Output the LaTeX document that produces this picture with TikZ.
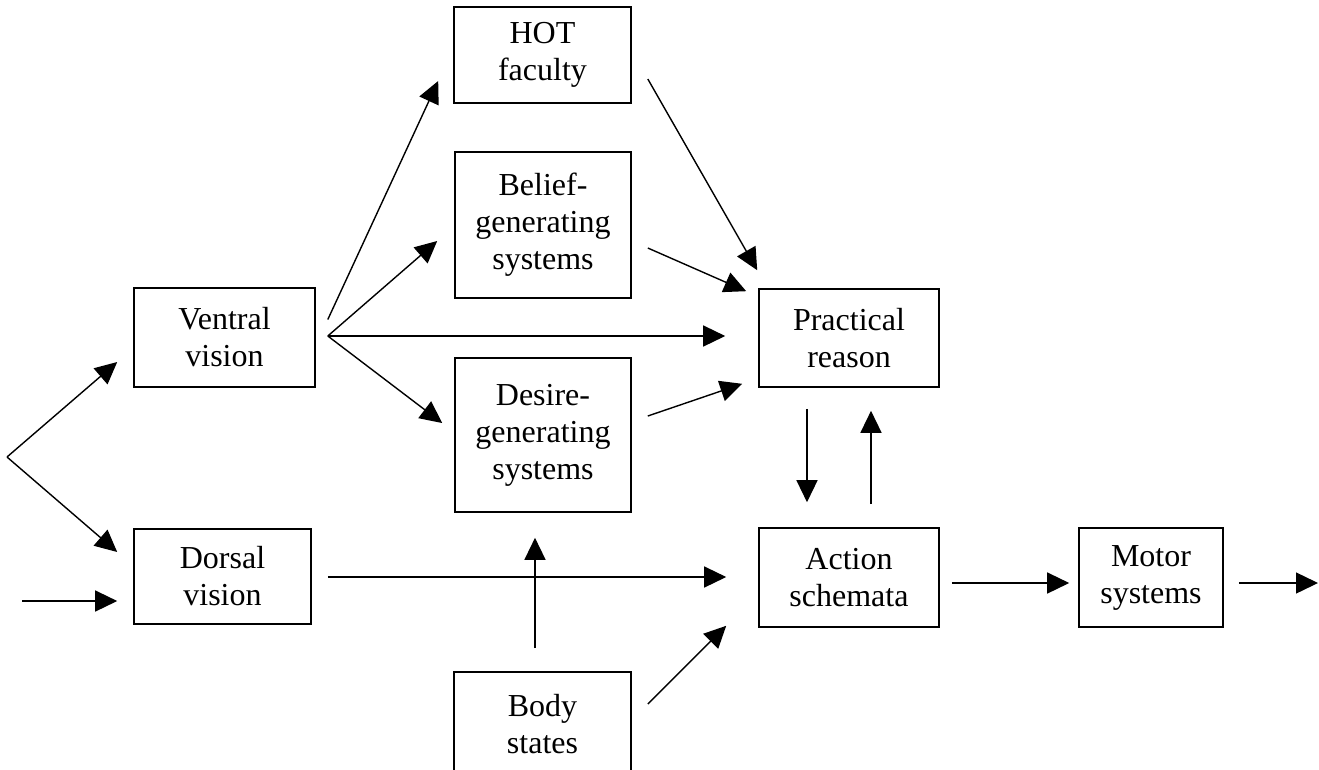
\documentclass[tikz,border=0pt]{standalone}
\usepackage{fontspec}
\setmainfont{Liberation Serif}
\usetikzlibrary{arrows.meta,calc}
\begin{document}
\begin{tikzpicture}[x=1pt,y=-1pt,
  box/.style={draw, line width=1.6pt, inner sep=0pt, align=center,
    font=\fontsize{32}{37}\selectfont},
  arr/.style={line width=1.4pt, -{Triangle[length=22pt,width=21pt]}}]
\clip (0,0) rectangle (1319,769);
\fill[white] (0,0) rectangle (1319,769);
% boxes
\node[box, minimum width=177pt, minimum height=96pt]  (hot) at (542.5,55)    {HOT\\faculty};
\node[box, minimum width=176pt, minimum height=146pt] (bel) at (543,225)     {Belief-\\generating\\systems};
\node[box, minimum width=176pt, minimum height=154pt] (des) at (543,435)     {Desire-\\generating\\systems};
\node[box, minimum width=181pt, minimum height=99pt]  (ven) at (224.5,337.5) {Ventral\\vision};
\node[box, minimum width=177pt, minimum height=95pt]  (dor) at (222.5,576.5) {Dorsal\\vision};
\node[box, minimum width=180pt, minimum height=98pt]  (pra) at (849,338)     {Practical\\reason};
\node[box, minimum width=180pt, minimum height=99pt]  (act) at (849,577.5)   {Action\\schemata};
\node[box, minimum width=144pt, minimum height=99pt]  (mot) at (1151,577.5)  {Motor\\systems};
\node[box, minimum width=177pt, minimum height=104pt] (bod) at (542.5,724)   {Body\\states};
% free ends
\coordinate (fork) at (7,457);
\coordinate (inp) at (22,601);
\coordinate (outp) at (1318,583);
\coordinate (vo) at ([shift={(12,-1.5)}]ven.east);
% inputs
\draw[arr] (fork) -- ([shift={(-16,24.5)}]ven.west);
\draw[arr] (fork) -- ([shift={(-16,-24.5)}]dor.west);
\draw[arr] (inp) -- ([shift={(-16,24.5)}]dor.west);
% ventral fan
\draw[arr] ([shift={(12,-18)}]ven.east) -- ([shift={(-15,26)}]hot.west);
\draw[arr] (vo) -- ([shift={(-17,16)}]bel.west);
\draw[arr] (vo) -- ([shift={(-33,-2)}]pra.west);
\draw[arr] (vo) -- ([shift={(-12,-12)}]des.west);
% into practical reason
\draw[arr] ([shift={(16,24)}]hot.east) -- ([shift={(-1,-18)}]pra.north west);
\draw[arr] ([shift={(16,23)}]bel.east) -- ([shift={(-12,3)}]pra.north west);
\draw[arr] ([shift={(16,-19)}]des.east) -- ([shift={(-16,-4)}]pra.south west);
% practical <-> action
\draw[arr] ([shift={(-42,21)}]pra.south) -- ([shift={(-42,-25)}]act.north);
\draw[arr] ([shift={(22,-23)}]act.north) -- ([shift={(22,23)}]pra.south);
% dorsal, body
\draw[arr] ([shift={(16,0.5)}]dor.east) -- ([shift={(-32,-0.5)}]act.west);
\draw[arr] ([shift={(-7.5,-23)}]bod.north) -- ([shift={(-8,25)}]des.south);
\draw[arr] ([shift={(16,-20)}]bod.east) -- ([shift={(-32,-2)}]act.south west);
% outputs
\draw[arr] ([shift={(12,5.5)}]act.east) -- ([shift={(-9,5.5)}]mot.west);
\draw[arr] ([shift={(15,5.5)}]mot.east) -- (outp);
\end{tikzpicture}
\end{document}
